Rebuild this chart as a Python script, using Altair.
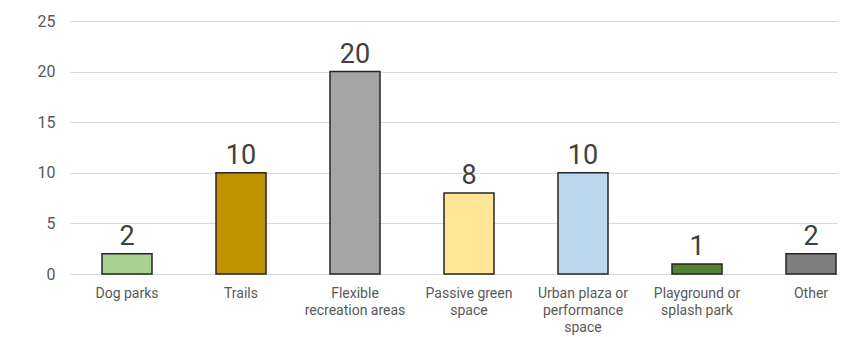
import altair as alt
import pandas as pd

categories = ["Dog parks", "Trails", "Flexible|recreation areas", "Passive green|space",
              "Urban plaza or|performance|space", "Playground or|splash park", "Other"]
values = [2, 10, 20, 8, 10, 1, 2]
colors = ["#a9d18e", "#bf9000", "#a5a5a5", "#ffe699", "#bdd7ee", "#548235", "#7f7f7f"]

df = pd.DataFrame({"cat": categories, "val": values})

xscale = alt.Scale(paddingInner=0.5614, paddingOuter=0.2807, range=[0, 798])
yscale = alt.Scale(domain=[0, 25], nice=False, zero=True)
x = alt.X("cat:N", sort=categories, title=None, scale=xscale,
          axis=alt.Axis(labelAngle=0, labelExpr="split(datum.label, '|')",
                        labelFont="Roboto", labelFontSize=14, labelColor="#595959",
                        labelPadding=12, ticks=False, domain=False,
                        labelLineHeight=17, labelBaseline="top"))
y = alt.Y("val:Q", title=None, scale=yscale,
          axis=alt.Axis(values=[0, 5, 10, 15, 20, 25], labelFont="Roboto", labelFontSize=16,
                        labelColor="#595959", ticks=False, domain=False, labelPadding=15,
                        gridColor="#d9d9d9", gridWidth=1))

bars = alt.Chart(df).mark_bar(stroke="#262626", strokeWidth=1.5).encode(
    x=x, y=y,
    color=alt.Color("cat:N", sort=categories, scale=alt.Scale(domain=categories, range=colors), legend=None),
)
text = alt.Chart(df).mark_text(dy=-9, baseline="alphabetic", font="Roboto", fontSize=27, color="#404040").encode(
    x=alt.X("cat:N", sort=categories, scale=xscale), y=alt.Y("val:Q", scale=yscale), text="val:Q"
)

chart = (bars + text).properties(
    width=768, height=253,
    autosize=alt.AutoSizeParams(type="none"),
    padding={"left": 62, "top": 13, "right": 0, "bottom": 62},
).configure_view(stroke=None)

chart.save("out.html", embed_options={"renderer": "svg", "actions": False})
